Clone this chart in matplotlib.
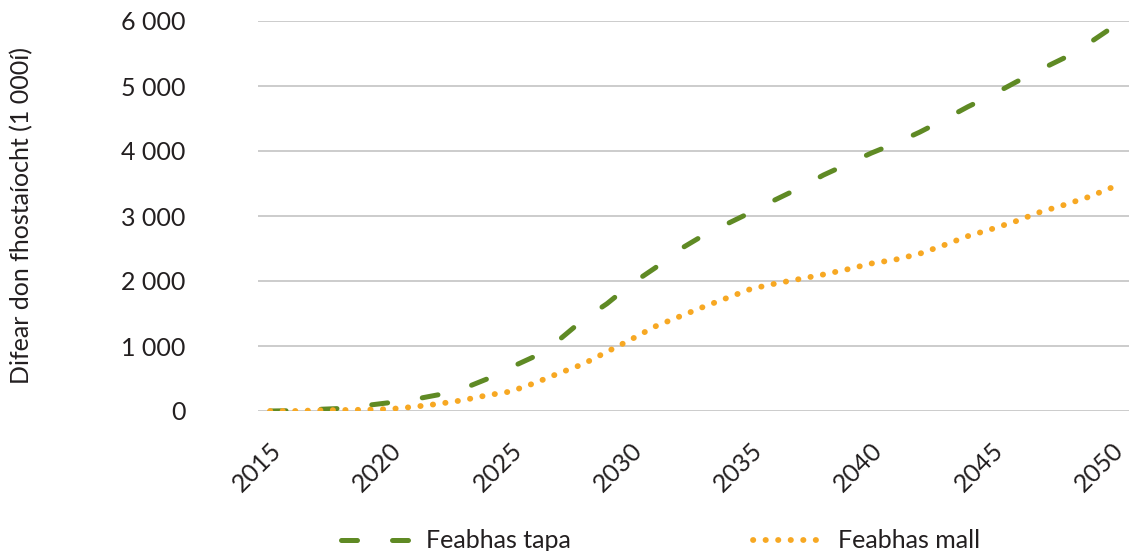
import numpy as np
import matplotlib
import matplotlib.pyplot as plt
import matplotlib.transforms as mtransforms

matplotlib.rcParams['font.family'] = ['Lato', 'DejaVu Sans']

## Data (1 000s)
years = np.arange(2015, 2051)
fast = [0, 5, 25, 40, 85, 130, 180, 250, 340, 490,
        670, 840, 1090, 1400, 1650, 1950, 2200, 2480, 2700, 2880,
        3060, 3250, 3430, 3630, 3800, 3970, 4120, 4290, 4480, 4680,
        4860, 5060, 5250, 5430, 5650, 5900]
slow = [0, 0, 10, 15, 20, 30, 65, 110, 165, 240,
        300, 430, 580, 720, 910, 1100, 1300, 1450, 1600, 1740,
        1880, 1960, 2030, 2100, 2180, 2270, 2330, 2420, 2550, 2690,
        2800, 2920, 3060, 3170, 3290, 3440]
labels = ['Feabhas tapa', 'Feabhas mall']
yticks = [0, 1000, 2000, 3000, 4000, 5000, 6000]
xticks = np.arange(2015, 2051, 5)

green = '#5f8a24'
orange = '#f7a823'
txt = '#231f20'
W, H = 1129, 551

fig = plt.figure(figsize=(W/100, H/100), dpi=100)
ax = fig.add_axes([258/W, 1-411/H, (W-258)/W, 390/H])

ax.plot(years, fast, color=green, lw=3.6, dashes=(3.2, 7.0),
        dash_capstyle='round', label=labels[0])
ax.plot(years, slow, color=orange, lw=4.2, dashes=(0.05, 2.1),
        dash_capstyle='round', label=labels[1])

ax.set_xlim(2014.5, 2050.7)
ax.set_ylim(0, 6000)
ax.set_yticks(yticks)
ax.set_yticklabels(['{:,}'.format(v).replace(',', ' ') for v in yticks])
ax.set_xticks(xticks)
ax.set_xticklabels([str(y) for y in xticks], rotation=45, ha='center')
ax.tick_params(axis='y', length=0, pad=52, labelsize=18, labelcolor=txt)
ax.tick_params(axis='x', length=0, pad=20, labelsize=18, labelcolor=txt)
shift = mtransforms.ScaledTranslation(-13/100, 0, fig.dpi_scale_trans)
for lab in ax.get_xticklabels():
    lab.set_transform(lab.get_transform() + shift)
ax.grid(axis='y', color='#c8c8c8', lw=1.3)
ax.set_axisbelow(True)
for s in ax.spines.values():
    s.set_visible(False)

fig.text(22/W, 1-216/H, 'Difear don fhostaíocht (1 000í)', rotation=90,
         ha='center', va='center', fontsize=18, color=txt)

fig.legend(loc='center', bbox_to_anchor=(0.585, 1-541/H), ncol=2,
           frameon=False, fontsize=18, handlelength=2.9, handletextpad=0.5,
           columnspacing=7.3, labelcolor=txt)

fig.savefig('out.png', dpi=100)
